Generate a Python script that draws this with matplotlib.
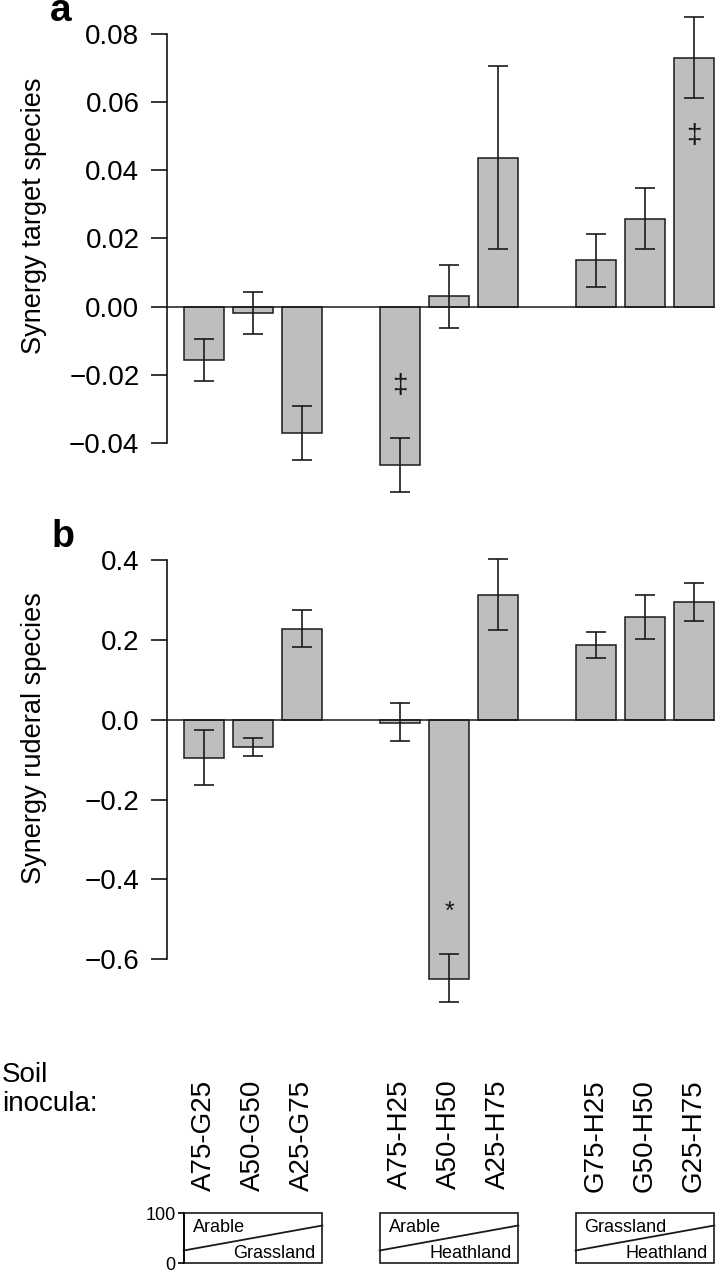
import matplotlib

matplotlib.use("Agg")
import matplotlib.pyplot as plt  # noqa: E402
from matplotlib.patches import Rectangle  # noqa: E402

plt.rcParams["font.family"] = ["Liberation Sans", "DejaVu Sans"]

# soil inocula (mixtures, % of each soil)
labels = ["A75-G25", "A50-G50", "A25-G75",
          "A75-H25", "A50-H50", "A25-H75",
          "G75-H25", "G50-H50", "G25-H75"]
mix_top = ["Arable", "Arable", "Grassland"]
mix_bottom = ["Grassland", "Heathland", "Heathland"]

# a: synergy target species (mean, lower / upper end of error bar)
target_mean = [-0.0157, -0.0020, -0.0372, -0.0466, 0.0030, 0.0437, 0.0136, 0.0258, 0.0731]
target_lo = [-0.0217, -0.0080, -0.0450, -0.0544, -0.0064, 0.0169, 0.0058, 0.0169, 0.0611]
target_hi = [-0.0095, 0.0042, -0.0292, -0.0386, 0.0121, 0.0706, 0.0213, 0.0347, 0.0851]
target_marks = {3: ("‡", -0.0234), 8: ("‡", 0.0502)}

# b: synergy ruderal species
ruderal_mean = [-0.095, -0.068, 0.228, -0.007, -0.649, 0.313, 0.187, 0.258, 0.294]
ruderal_lo = [-0.164, -0.092, 0.181, -0.054, -0.708, 0.225, 0.154, 0.202, 0.246]
ruderal_hi = [-0.025, -0.046, 0.274, 0.043, -0.587, 0.402, 0.219, 0.313, 0.343]
ruderal_marks = {4: ("*", -0.481)}

BAR = "#bebebe"
EDGE = "#1a1a1a"
W, H = 716, 1272

# bar slots: three groups of three with an empty slot in between
x = [g * 4 + i for g in range(3) for i in range(3)]
XLIM = (-0.757, 10.42)
HALF = 0.415


def _rect(top, bottom, left=167, right=714.5):
    return [left / W, 1 - bottom / H, (right - left) / W, (bottom - top) / H]


def _fmt(v, nd):
    s = f"{abs(v):.{nd}f}"
    return ("\u2212" + s) if v < 0 else s


def draw_panel(ax, mean, lo, hi, marks, ylim, ticks, nd):
    err = [[m - l for m, l in zip(mean, lo)], [h - m for m, h in zip(mean, hi)]]
    ax.bar(x, mean, width=2 * HALF, color=BAR, edgecolor=EDGE, linewidth=1.1, zorder=2)
    ax.errorbar(x, mean, yerr=err, fmt="none", ecolor=EDGE, elinewidth=1.2,
                capsize=7.4, capthick=1.2, zorder=3)
    ax.axhline(0, color=EDGE, lw=1.1, zorder=4)
    for i, (sym, yv) in marks.items():
        ax.text(x[i], yv, sym, ha="center", va="center",
                fontsize=20 if sym != "*" else 18, color=EDGE, zorder=5)
    ax.set_xlim(XLIM)
    ax.set_ylim(ylim)
    ax.set_yticks(ticks, [_fmt(t, nd) for t in ticks])
    for s in ("top", "right", "bottom"):
        ax.spines[s].set_visible(False)
    ax.spines["left"].set_bounds(ticks[0], ticks[-1])
    ax.spines["left"].set_linewidth(1.1)
    ax.tick_params(axis="y", length=11.8, width=1.1, pad=8, labelsize=20)
    ax.tick_params(axis="x", length=0, labelbottom=False)


fig = plt.figure(figsize=(W / 100, H / 100), dpi=100)
ax_a = fig.add_axes(_rect(10, 500))
ax_b = fig.add_axes(_rect(540, 1010))
ax_m = fig.add_axes(_rect(1213, 1263))

draw_panel(ax_a, target_mean, target_lo, target_hi, target_marks,
           (-0.05673, 0.08704), [-0.04, -0.02, 0.0, 0.02, 0.04, 0.06, 0.08], 2)
draw_panel(ax_b, ruderal_mean, ruderal_lo, ruderal_hi, ruderal_marks,
           (-0.727, 0.4501), [-0.6, -0.4, -0.2, 0.0, 0.2, 0.4], 1)

ax_b.set_xticks(x, labels)
ax_b.tick_params(axis="x", labelbottom=True, labelsize=20, labelrotation=90, pad=50)

fig.text(34 / W, 1 - 215.5 / H, "Synergy target species", rotation=90,
         ha="center", va="center", fontsize=19.5)
fig.text(34 / W, 1 - 738.5 / H, "Synergy ruderal species", rotation=90,
         ha="center", va="center", fontsize=19.5)
fig.text(50 / W, 1 - 21 / H, "a", fontsize=28, fontweight="bold", va="baseline")
fig.text(52 / W, 1 - 547 / H, "b", fontsize=27, fontweight="bold", va="baseline")
fig.text(2 / W, 1 - 1062 / H, "Soil\ninocula:", fontsize=20, va="top", linespacing=1.15)

# mixture diagrams under each group
ax_m.set_xlim(XLIM)
ax_m.set_ylim(0, 100)
for g in range(3):
    x0 = x[3 * g] - HALF
    x1 = x[3 * g + 2] + HALF
    ax_m.add_patch(Rectangle((x0, 0), x1 - x0, 100, fill=False, edgecolor=EDGE,
                             lw=1.2, clip_on=False))
    ax_m.plot([x0, x1], [25, 75], color=EDGE, lw=1.3, clip_on=False)
    ax_m.text(x0 + 0.18, 62, mix_top[g], fontsize=13, va="baseline", ha="left")
    ax_m.text(x1 - 0.14, 10, mix_bottom[g], fontsize=13, va="baseline", ha="right")
for s in ("top", "right", "bottom"):
    ax_m.spines[s].set_visible(False)
ax_m.spines["left"].set_position(("data", x[0] - HALF))
ax_m.spines["left"].set_bounds(0, 100)
ax_m.spines["left"].set_linewidth(1.2)
ax_m.set_yticks([0, 100], ["0", "100"])
ax_m.tick_params(axis="y", length=4, width=1.2, pad=2, labelsize=13)
ax_m.tick_params(axis="x", length=0, labelbottom=False)

fig.savefig("out.png", dpi=100)
plt.close(fig)
